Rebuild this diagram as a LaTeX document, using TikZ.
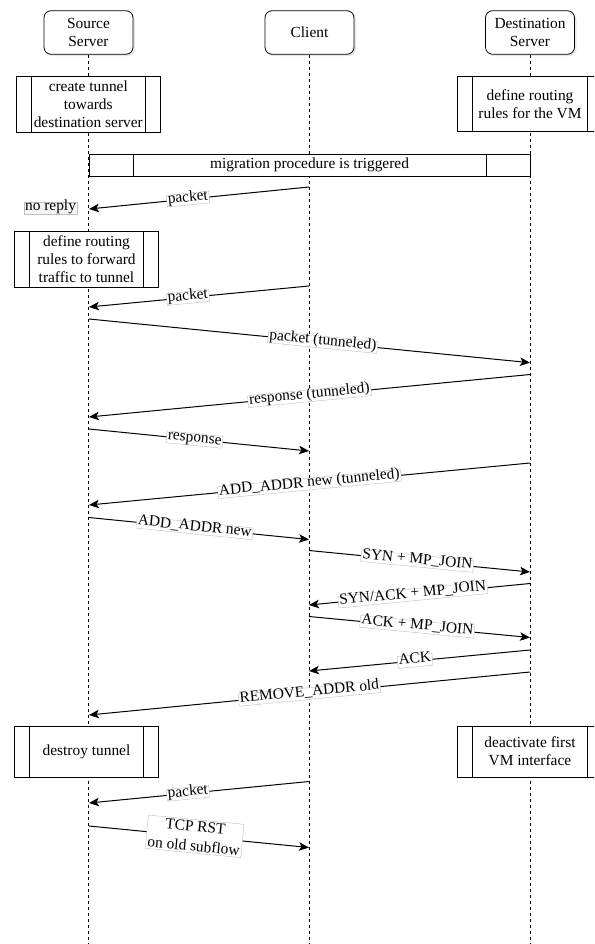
\documentclass[tikz,border=0pt]{standalone}
\usepackage{fontspec}
\setmainfont{Liberation Serif}
\usetikzlibrary{arrows.meta,shadows}
\begin{document}
\begin{tikzpicture}[x=1pt,y=-1pt,
  font=\fontsize{15.4}{18}\selectfont,
  actor/.style={draw,rounded corners=7pt,minimum width=89pt,minimum height=43.5pt,
    align=center,fill=white,line width=0.8pt,inner sep=1pt,
    drop shadow={shadow xshift=2pt,shadow yshift=-2pt,opacity=0.18}},
  lifeline/.style={dash pattern=on 3pt off 3pt,line width=0.8pt},
  procbox/.style={draw,fill=white,minimum width=#1,align=center,line width=0.8pt,inner sep=0pt,
    path picture={
      \draw[line width=0.8pt] ([xshift=15pt]path picture bounding box.north west) -- ([xshift=15pt]path picture bounding box.south west);
      \draw[line width=0.8pt] ([xshift=-15pt]path picture bounding box.north east) -- ([xshift=-15pt]path picture bounding box.south east);}},
  procbox/.default=144pt,
  msg/.style={-{Stealth[length=10pt,width=8.5pt,inset=2.5pt]},line width=1pt},
  lbl/.style={sloped,fill=white,draw=black!25,line width=0.4pt,inner sep=1.2pt,
    text height=0.72em,text depth=0.22em},
  lblmulti/.style={sloped,fill=white,draw=black!25,line width=0.4pt,inner sep=1.8pt,align=center,
    font=\fontsize{15.4}{19.5}\selectfont}
]
\useasboundingbox (0,0) rectangle (594,944);
\clip (0,0) rectangle (594,944);

\coordinate (bottom) at (0,944);

% actors
\node[actor] (src) at (88.5,32.5) {Source\\Server};
\node[actor] (cli) at (309.5,32.5) {Client};
\node[actor] (dst) at (530,32.5) {Destination\\Server};

% lifelines
\draw[lifeline] (src.south) -- (src.south |- bottom);
\draw[lifeline] (cli.south) -- (cli.south |- bottom);
\draw[lifeline] (dst.south) -- (dst.south |- bottom);

% process boxes
\node[procbox, minimum height=56pt] (tun) at (88.3,104.5) {create tunnel\\towards\\destination server};
\node[procbox=145pt, minimum height=55pt] (rvm) at (530,104) {define routing\\rules for the VM};
\node[draw,fill=white,line width=0.8pt,minimum width=441pt,minimum height=22pt,inner sep=0pt,
  path picture={
    \draw[line width=0.8pt] ([xshift=44pt]path picture bounding box.north west) -- ([xshift=44pt]path picture bounding box.south west);
    \draw[line width=0.8pt] ([xshift=-44pt]path picture bounding box.north east) -- ([xshift=-44pt]path picture bounding box.south east);}]
  (mig) at (309.5,165) {migration procedure is triggered};
\node[fill=black!4,draw=black!25,line width=0.4pt,inner sep=1.2pt,text height=0.72em,text depth=0.22em] (nor) at (50.5,208) {no reply};
\node[procbox, minimum height=56pt] (fwd) at (86.5,259) {define routing\\rules to forward\\traffic to tunnel};
\node[procbox, minimum height=51pt] (des) at (86.5,751.5) {destroy tunnel};
\node[procbox=145pt, minimum height=51pt] (dea) at (530,751.5) {deactivate first\\VM interface};

% message end points on lifelines
\coordinate (c1) at (309,187);   \coordinate (s1) at (89,209);
\coordinate (c2) at (309,286);   \coordinate (s2) at (89,307);
\coordinate (s3) at (89,319);    \coordinate (d3) at (530,362.7);
\coordinate (d4) at (530,374.5); \coordinate (s4) at (89,417);
\coordinate (s5) at (89,429);    \coordinate (c5) at (309,451);
\coordinate (d6) at (530,463);   \coordinate (s6) at (89,505);
\coordinate (s7) at (89,517.5);  \coordinate (c7) at (309,539.5);
\coordinate (c8) at (309,550.5); \coordinate (d8) at (530,572);
\coordinate (d9) at (530,583.5); \coordinate (c9) at (309,605);
\coordinate (c10) at (309,616.5);\coordinate (d10) at (530,637.5);
\coordinate (d11) at (530,650);  \coordinate (c11) at (309,671);
\coordinate (d12) at (530,672);  \coordinate (s12) at (89,715);
\coordinate (c13) at (309,781.5);\coordinate (s13) at (89,803);
\coordinate (s14) at (89,826);   \coordinate (c14) at (309,847.5);

% messages
\draw[msg] (c1) -- node[lbl,pos=0.55] {packet} (s1);
\draw[msg] (c2) -- node[lbl,pos=0.55] {packet} (s2);
\draw[msg] (s3) -- node[lbl,pos=0.53] {packet (tunneled)} (d3);
\draw[msg] (d4) -- node[lbl,pos=0.5] {response (tunneled)} (s4);
\draw[msg] (s5) -- node[lbl,pos=0.48] {response} (c5);
\draw[msg] (d6) -- node[lbl,pos=0.5] {ADD\_ADDR new (tunneled)} (s6);
\draw[msg] (s7) -- node[lbl,pos=0.48] {ADD\_ADDR new} (c7);
\draw[msg] (c8) -- node[lbl,pos=0.49] {SYN + MP\_JOIN} (d8);
\draw[msg] (d9) -- node[lbl,pos=0.53] {SYN/ACK + MP\_JOIN} (c9);
\draw[msg] (c10) -- node[lbl,pos=0.49] {ACK + MP\_JOIN} (d10);
\draw[msg] (d11) -- node[lbl,pos=0.52] {ACK} (c11);
\draw[msg] (d12) -- node[lbl,pos=0.5] {REMOVE\_ADDR old} (s12);
\draw[msg] (c13) -- node[lbl,pos=0.55] {packet} (s13);
\draw[msg] (s14) -- node[lblmulti,pos=0.48] {TCP RST\\on old subflow} (c14);
\end{tikzpicture}
\end{document}
